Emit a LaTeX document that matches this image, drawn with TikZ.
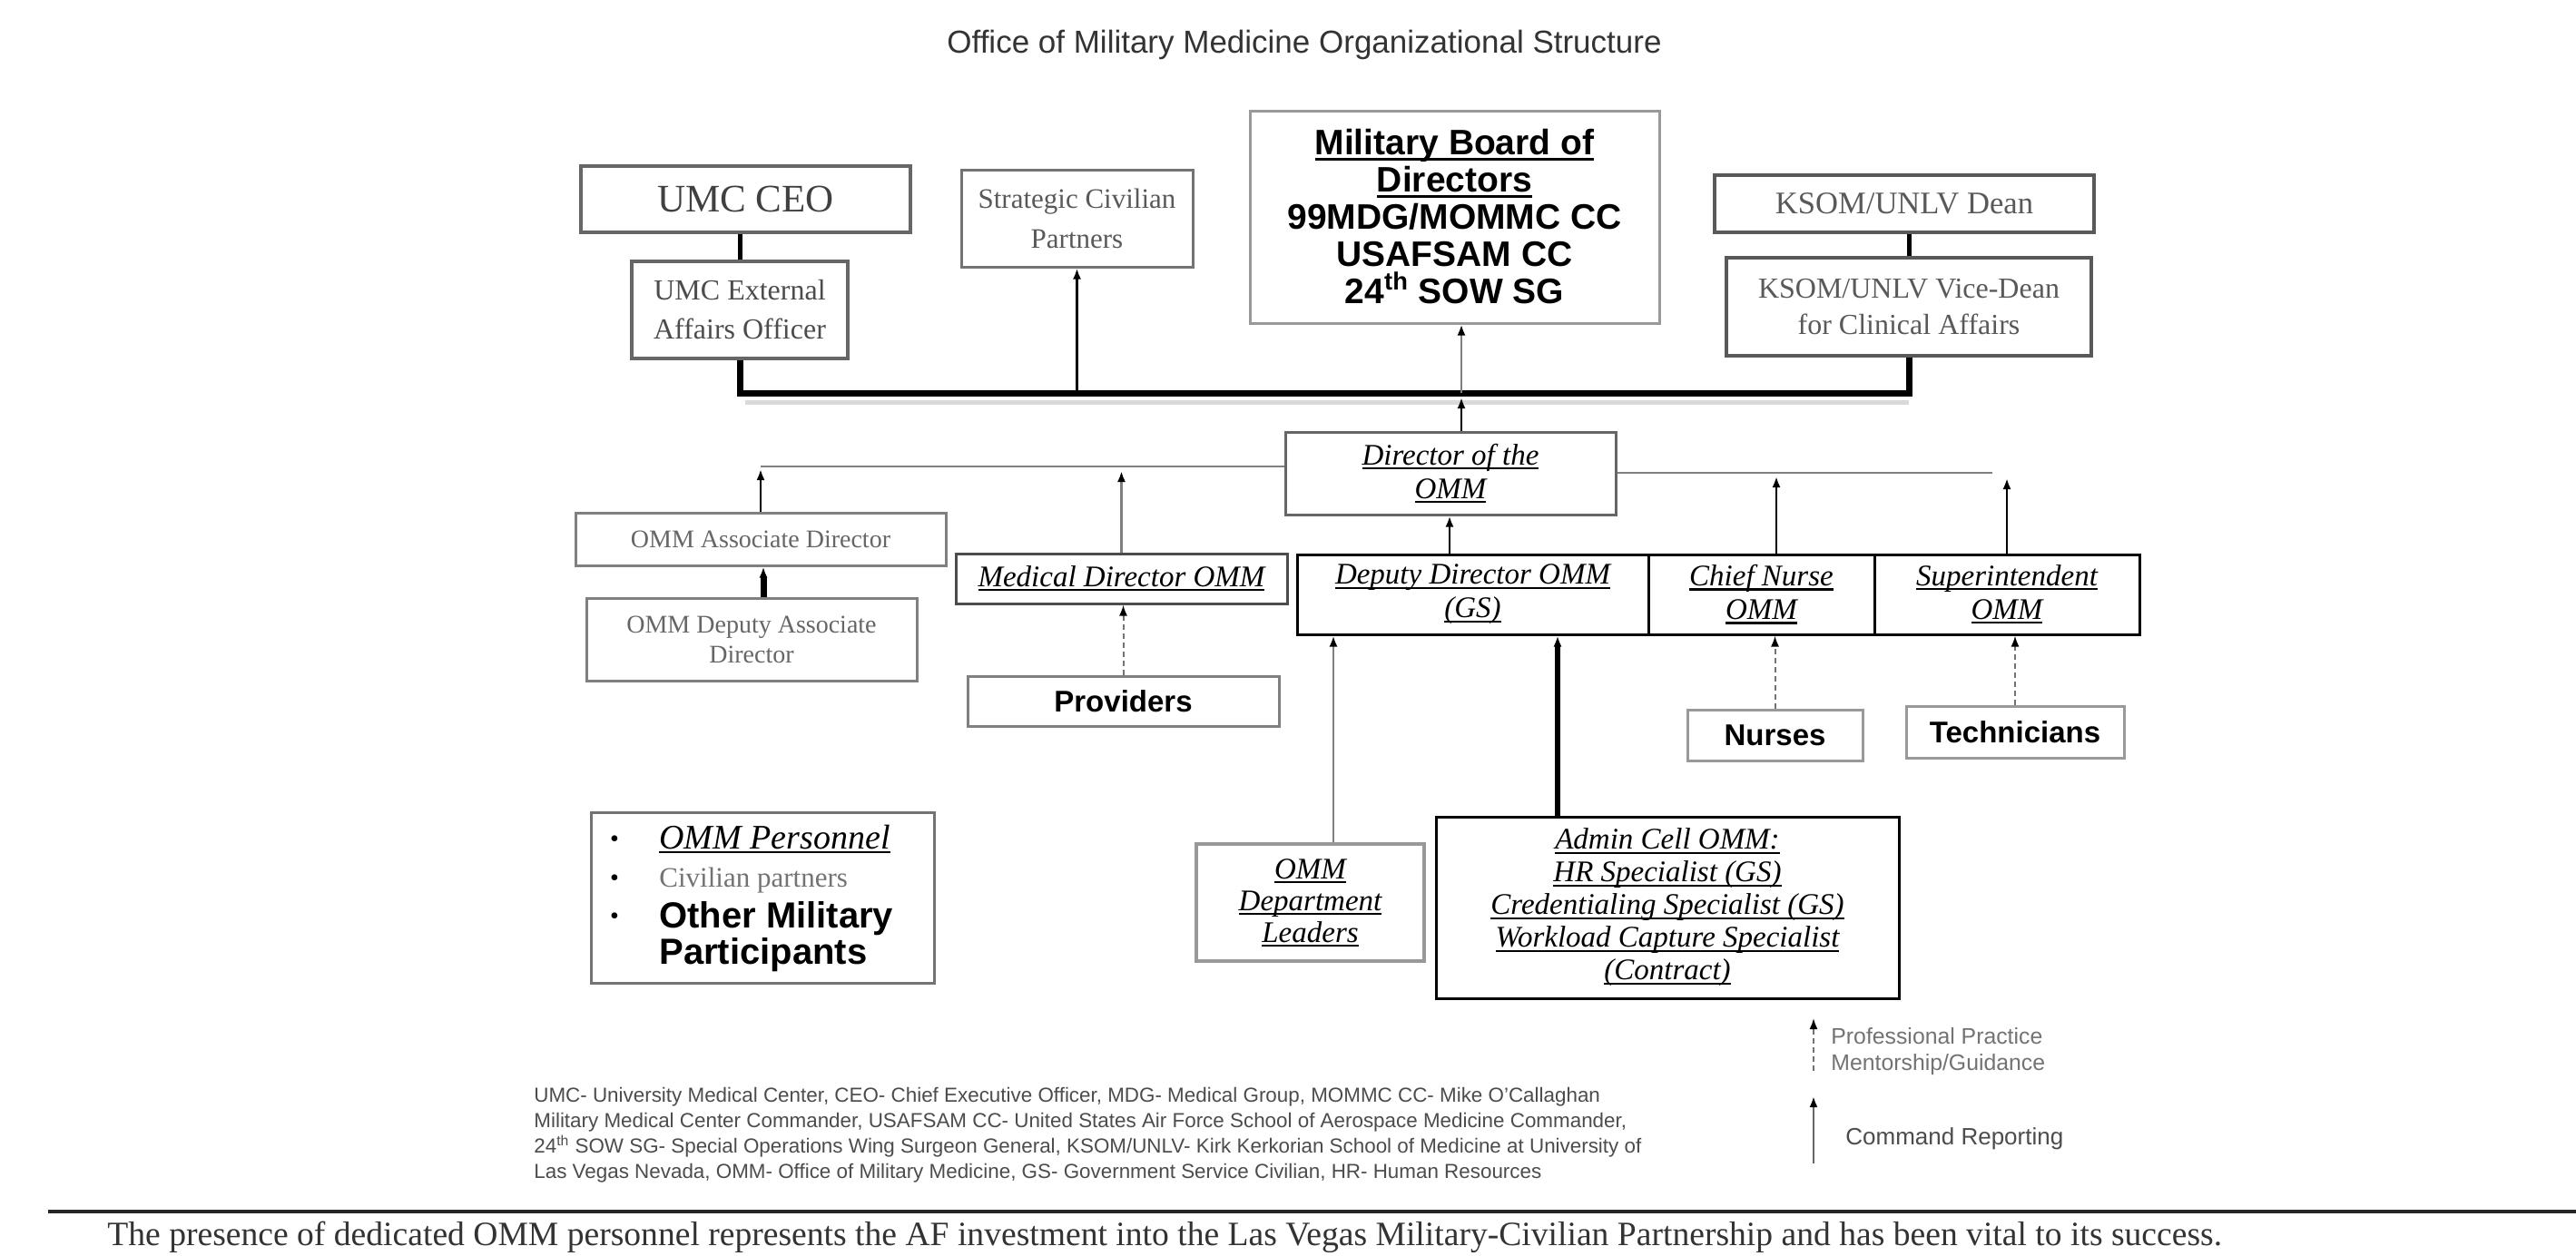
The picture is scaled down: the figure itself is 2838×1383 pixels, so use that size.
\documentclass[tikz,border=0pt]{standalone}
\usepackage{fontspec}
\setmainfont{Liberation Serif}
\setsansfont{Liberation Sans}
\usetikzlibrary{arrows.meta}
\newcommand{\ulin}[1]{\leavevmode\setbox0=\hbox{#1}\rlap{\rule[-2.4pt]{\wd0}{1.1pt}}\box0}
\newcommand{\ulinb}[1]{\leavevmode\setbox0=\hbox{#1}\rlap{\rule[-2.8pt]{\wd0}{1.4pt}}\box0}
\newcommand{\fsz}[2]{\fontsize{#1}{#2}\selectfont}
\tikzset{
  box/.style={draw, rectangle, inner sep=1pt, align=center, fill=white},
  tipa/.style={-{Latex[length=6pt,width=4.5pt,color=black]}},
  cmd/.style={draw=black, line width=1.2pt, tipa},
  cmdg/.style={draw=black!50, line width=1.2pt, tipa},
  mentor/.style={draw=black!55, line width=1pt, dash pattern=on 3pt off 2pt, tipa},
  grayline/.style={draw=black!50, line width=1.3pt},
  heavy/.style={draw=black, line width=2.5pt},
  ital/.style={font=\itshape\fsz{16.5}{18.5}},
  boldsans/.style={font=\sffamily\bfseries\fsz{16.5}{18}},
  fnote/.style={anchor=base west, inner sep=0, text=black!70, font=\sffamily\fsz{11.2}{14}},
}
\begin{document}
\begin{tikzpicture}[x=0.5pt,y=-0.5pt]
\useasboundingbox[fill=white] (0,0) rectangle (2838,1383);

% title
\node[anchor=base, text=black!80, font=\sffamily\fsz{17.5}{20}] (title) at (1437,58) {Office of Military Medicine Organizational Structure};

% top row
\node[box, draw=black!60, line width=1.6pt, minimum width=181.5pt, minimum height=36.5pt, text=black!75, font=\fsz{21.5}{24}] (ceo) at (821.5,219.5) {UMC CEO};
\node[box, draw=black!60, line width=2pt, minimum width=119pt, minimum height=53.5pt, text=black!70, font=\fsz{16}{21.5}] (ext) at (815,341.5) {UMC External\\Affairs Officer};
\node[box, draw=black!55, line width=1.5pt, minimum width=127.5pt, minimum height=53.5pt, text=black!65, font=\fsz{15.5}{22}] (strat) at (1186.5,240.5) {Strategic Civilian\\Partners};
\node[box, draw=black!40, line width=1.5pt, minimum width=225.5pt, minimum height=117pt, font=\sffamily\bfseries\fsz{19.5}{20.5}] (board) at (1602.5,239) {\ulinb{Military Board of}\\\ulinb{Directors}\\99MDG/MOMMC CC\\USAFSAM CC\\24\textsuperscript{th} SOW SG};
\node[box, draw=black!65, line width=2pt, minimum width=209pt, minimum height=31.5pt, text=black!65, font=\fsz{17.3}{20}] (dean) at (2098,224.5) {KSOM/UNLV Dean};
\node[box, draw=black!65, line width=2pt, minimum width=201pt, minimum height=54pt, text=black!65, font=\fsz{16}{20}] (vice) at (2103,338) {KSOM/UNLV Vice-Dean\\for Clinical Affairs};

% OMM
\node[box, draw=black!60, line width=1.5pt, minimum width=182pt, minimum height=45.5pt, ital] (dir) at (1598,521.5) {\ulin{Director of the}\\\ulin{OMM}};
\node[box, draw=black!50, line width=1.5pt, minimum width=204pt, minimum height=29pt, text=black!60, font=\fsz{14}{16}] (assoc) at (838,594) {OMM Associate Director};
\node[box, draw=black!50, line width=1.5pt, minimum width=182pt, minimum height=45.5pt, text=black!60, font=\fsz{14}{16.5}] (depassoc) at (828,704.5) {OMM Deputy Associate\\Director};
\node[box, draw=black!70, line width=1.5pt, minimum width=182.5pt, minimum height=27.5pt, ital] (med) at (1235.5,637.5) {\ulin{Medical Director OMM}};
\node[box, draw=black!50, line width=1.5pt, minimum width=171.5pt, minimum height=27.5pt, boldsans] (prov) at (1237.5,772.5) {Providers};
\node[box, draw=black, line width=1.5pt, minimum width=193.5pt, minimum height=44pt, ital] (deputy) at (1622.5,655) {\ulin{Deputy Director OMM}\\\ulin{(GS)}};
\node[box, draw=black, line width=1.5pt, minimum width=124.5pt, minimum height=44pt, ital] (chief) at (1940.5,655) {\ulin{Chief Nurse}\\\ulin{OMM}};
\node[box, draw=black, line width=1.5pt, minimum width=146pt, minimum height=44pt, ital] (super) at (2211,655) {\ulin{Superintendent}\\\ulin{OMM}};
\node[box, draw=black!40, line width=1.5pt, minimum width=96.5pt, minimum height=28pt, boldsans] (nurses) at (1955.5,810) {Nurses};
\node[box, draw=black!40, line width=1.5pt, minimum width=120pt, minimum height=28.5pt, boldsans] (tech) at (2220,806.5) {Technicians};
\node[box, draw=black!40, line width=2pt, minimum width=125.5pt, minimum height=64.5pt, font=\itshape\fsz{16.5}{17.5}] (dept) at (1443.5,994.5) {\ulin{OMM}\\\ulin{Department}\\\ulin{Leaders}};
\node[box, draw=black, line width=1.5pt, minimum width=255pt, minimum height=100pt, font=\itshape\fsz{16.5}{18}] (admin) at (1837,1000) {\ulin{Admin Cell OMM:}\\\ulin{HR Specialist (GS)}\\\ulin{Credentialing Specialist (GS)}\\\ulin{Workload Capture Specialist}\\\ulin{(Contract)}};

% legend box
\node[box, draw=black!55, line width=1.5pt, minimum width=189pt, minimum height=94pt] (legend) at (840,989) {};
\node[font=\fsz{14}{14}] (lb1) at (677,927) {•};
\node[font=\fsz{14}{14}] (lb2) at (677,970) {•};
\node[font=\fsz{14}{14}] (lb3) at (677,1012) {•};
\node[anchor=base west, inner sep=0, font=\itshape\fsz{19}{20}] (lt1) at (726,935) {\ulin{OMM Personnel}};
\node[anchor=base west, inner sep=0, text=black!55, font=\fsz{15.5}{17}] (lt2) at (726,977) {Civilian partners};
\node[anchor=base west, inner sep=0, font=\sffamily\bfseries\fsz{20}{21}] (lt3) at (726,1022) {Other Military};
\node[anchor=base west, inner sep=0, font=\sffamily\bfseries\fsz{20}{21}] (lt4) at (726,1062) {Participants};

% coordinates
\coordinate (bar) at (0,433);
\coordinate (bx) at (1610,433);
\coordinate (hl) at (838,514);
\coordinate (hr) at (2195,521);
\coordinate (cnx) at (1957,0);
\coordinate (dx) at (1597,0);
\coordinate (dax) at (841,0);
\coordinate (dlx) at (1469,0);
\coordinate (adx) at (1716,0);

% top connectors
\draw[heavy] (ceo.south -| ext.north) -- (ext.north);
\draw[heavy] (vice.north |- dean.south) -- (vice.north);
\draw[black!15, line width=2.5pt] ([xshift=3pt]ext.south |- 0,443) -- (vice.south |- 0,443);
\draw[draw=black, line width=3.5pt] (ext.south) |- (vice.south |- bar) -- (vice.south);
\draw[cmd] (strat.south |- bar) -- (strat.south);
\draw[cmdg] (bx) -- (bx |- board.south);
\draw[cmd] (dir.north -| bx) -- (1610,438);

% director lines
\draw[grayline] (dir.west |- hl) -- (hl);
\draw[grayline] (dir.east |- hr) -- (hr);
\draw[cmd] (assoc.north) -- (838,517);
\draw[cmdg] (med.north) -- (1235.5,519);
\draw[cmd] (chief.north -| cnx) -- (1957,525);
\draw[cmd] (super.north) -- (2211,527);
\draw[cmd] (deputy.north -| dx) -- (dir.south -| dx);
\draw[draw=black, line width=3.5pt, tipa] (depassoc.north -| dax) -- (assoc.south -| dax);
\draw[mentor] (prov.north) -- (prov.north |- med.south);
\draw[mentor] (nurses.north) -- (nurses.north |- chief.south);
\draw[mentor] (tech.north) -- (tech.north |- super.south);
\draw[cmdg] (dept.north -| dlx) -- (deputy.south -| dlx);
\draw[draw=black, line width=3pt, tipa] (admin.north -| adx) -- (deputy.south -| adx);

% footnote
\node[fnote] (fn1) at (588,1214) {UMC- University Medical Center, CEO- Chief Executive Officer, MDG- Medical Group, MOMMC CC- Mike O'Callaghan};
\node[fnote] (fn2) at (588,1242) {Military Medical Center Commander, USAFSAM CC- United States Air Force School of Aerospace Medicine Commander,};
\node[fnote] (fn3) at (588,1270) {24\textsuperscript{th} SOW SG- Special Operations Wing Surgeon General, KSOM/UNLV- Kirk Kerkorian School of Medicine at University of};
\node[fnote] (fn4) at (588,1298) {Las Vegas Nevada, OMM- Office of Military Medicine, GS- Government Service Civilian, HR- Human Resources};

% arrow legend
\coordinate (la1) at (1998,1180);
\coordinate (la2) at (1998,1122);
\coordinate (lb1c) at (1998,1282);
\coordinate (lb2c) at (1998,1208);
\draw[mentor] (la1) -- (la2);
\draw[draw=black!60, line width=1.2pt, tipa] (lb1c) -- (lb2c);
\node[anchor=base west, inner sep=0, text=black!55, font=\sffamily\fsz{12.4}{14}] (pp1) at (2017,1150) {Professional Practice};
\node[anchor=base west, inner sep=0, text=black!55, font=\sffamily\fsz{12.4}{14}] (pp2) at (2017,1179) {Mentorship/Guidance};
\node[anchor=base west, inner sep=0, text=black!70, font=\sffamily\fsz{13}{14}] (cr) at (2033,1261) {Command Reporting};

% bottom rule and sentence
\coordinate (r1) at (53,1335);
\coordinate (r2) at (2838,1335);
\draw[draw=black!85, line width=2pt] (r1) -- (r2);
\node[anchor=base west, inner sep=0, text=black!80, font=\fsz{18.8}{20}] (sent) at (118,1372) {The presence of dedicated OMM personnel represents the AF investment into the Las Vegas Military-Civilian Partnership and has been vital to its success.};
\end{tikzpicture}
\end{document}
